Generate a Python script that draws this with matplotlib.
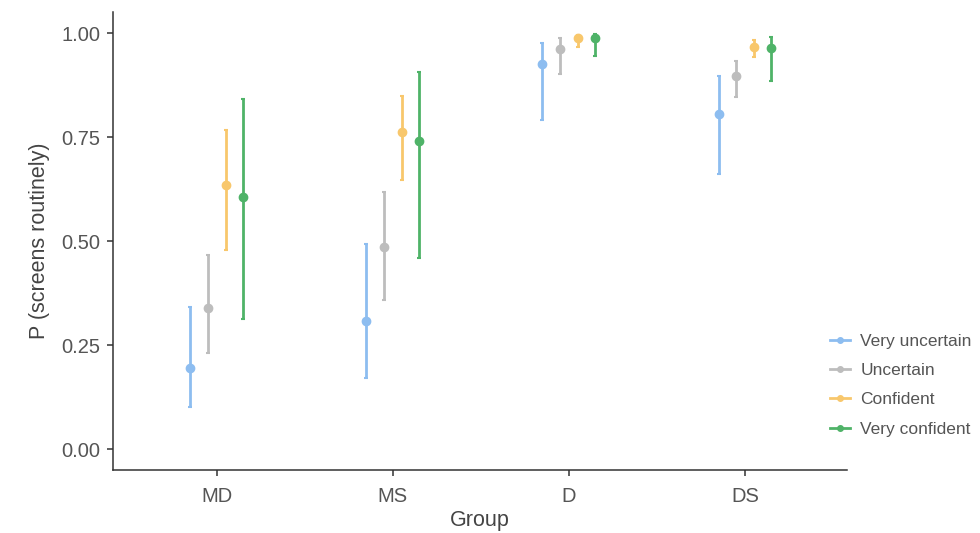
import numpy as np
import matplotlib
matplotlib.use("Agg")
import matplotlib.pyplot as plt
from matplotlib.lines import Line2D

groups = ["MD", "MS", "D", "DS"]
levels = ["Very uncertain", "Uncertain", "Confident", "Very confident"]
colors = ["#8dbdf0", "#bdbdbd", "#f8c76c", "#4fb368"]

# estimate, lower, upper per level (rows) and group (columns)
est = [
    [0.195, 0.309, 0.925, 0.805],
    [0.339, 0.487, 0.962, 0.897],
    [0.634, 0.763, 0.989, 0.967],
    [0.607, 0.741, 0.988, 0.963],
]
lower = [
    [0.102, 0.172, 0.790, 0.662],
    [0.232, 0.358, 0.902, 0.846],
    [0.478, 0.646, 0.966, 0.942],
    [0.313, 0.460, 0.945, 0.886],
]
upper = [
    [0.341, 0.493, 0.977, 0.897],
    [0.467, 0.619, 0.988, 0.933],
    [0.768, 0.850, 0.996, 0.983],
    [0.842, 0.907, 0.997, 0.991],
]

plt.rcParams["font.family"] = ["Liberation Sans", "DejaVu Sans"]

fig = plt.figure(figsize=(9.8, 5.33), dpi=100)
ax = fig.add_axes([0.1153, 0.118, 0.749, 0.859])

x = np.arange(1, len(groups) + 1)
offsets = [-0.15, -0.05, 0.05, 0.15]

for i, lev in enumerate(levels):
    e = np.array(est[i])
    lo = np.array(lower[i])
    hi = np.array(upper[i])
    ax.errorbar(
        x + offsets[i], e, yerr=[e - lo, hi - e],
        fmt="o", color=colors[i], ecolor=colors[i],
        markersize=6, elinewidth=2, capsize=1.5, capthick=1.5,
    )

ax.set_xlim(0.41, 4.58)
ax.set_ylim(-0.05, 1.05)
ax.set_xticks(x)
ax.set_xticklabels(groups)
ax.set_yticks([0, 0.25, 0.5, 0.75, 1.0])
ax.set_yticklabels(["0.00", "0.25", "0.50", "0.75", "1.00"])

for side in ["top", "right"]:
    ax.spines[side].set_visible(False)
for side in ["left", "bottom"]:
    ax.spines[side].set_color("#333333")
    ax.spines[side].set_linewidth(1.1)

ax.tick_params(axis="both", colors="#333333", length=4, width=1.1,
               labelsize=14.5, labelcolor="#555555")
ax.tick_params(axis="x", pad=8)
ax.tick_params(axis="y", pad=5)

ax.set_xlabel("Group", fontsize=15.5, color="#444444", labelpad=3)
ax.set_ylabel("P (screens routinely)", fontsize=15.5, color="#444444", labelpad=8)

# ggplot-style legend keys: short line with a point in the middle
handles = [Line2D([0], [0], color=c, lw=2, marker="o", markersize=4)
           for c in colors]
leg = fig.legend(
    handles, levels, loc="center left", bbox_to_anchor=(0.847, 0.2775),
    frameon=False, fontsize=12.5, handlelength=1.15, handletextpad=0.6,
    labelspacing=0.82, borderpad=0, borderaxespad=0,
)
for t in leg.get_texts():
    t.set_color("#555555")

fig.savefig("out.png", dpi=100)
